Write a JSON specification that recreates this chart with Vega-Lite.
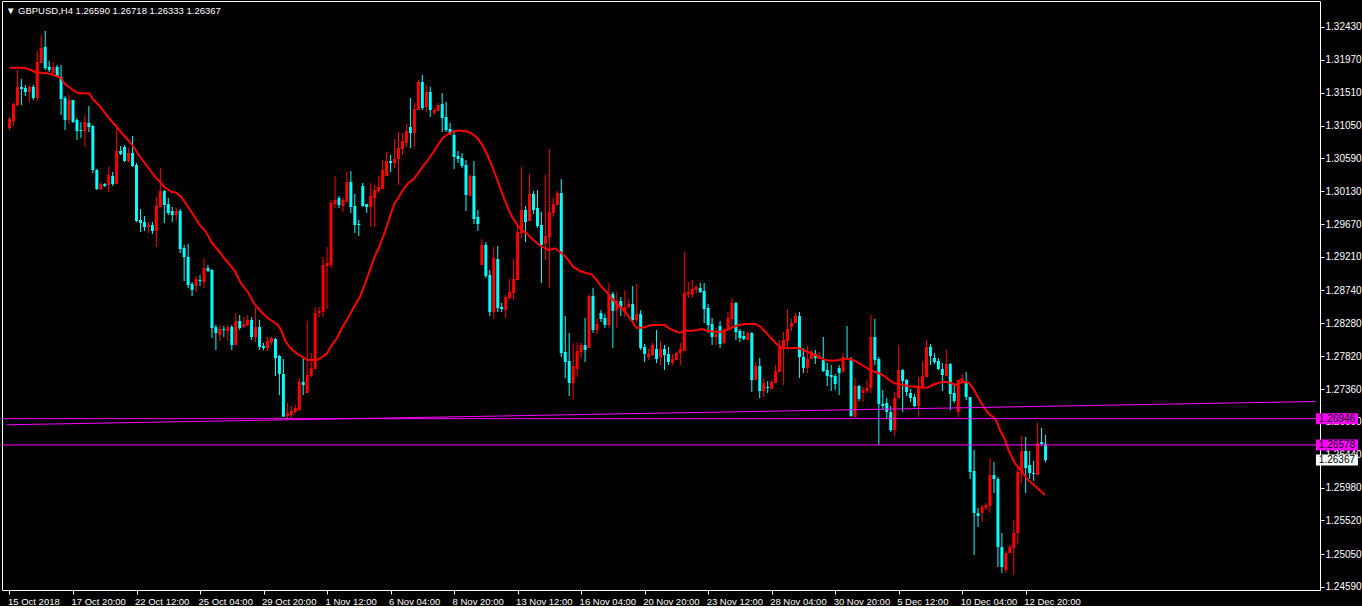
{
"$schema":"https://vega.github.io/schema/vega-lite/v6.json",
"background":"#000000",
"padding":{"left":1,"top":1,"right":0,"bottom":0},
"width":1318,"height":589,
"config":{"view":{"stroke":"#ffffff","strokeWidth":1}},
"resolve":{"axis":{"x":"independent","y":"independent"}},
"datasets":{
"candles":[
{"i":0,"o":1.31015,"h":1.31169,"l":1.30987,"c":1.31141},
{"i":1,"o":1.31113,"h":1.31365,"l":1.31043,"c":1.31351},
{"i":2,"o":1.31337,"h":1.31827,"l":1.31323,"c":1.31589},
{"i":3,"o":1.31589,"h":1.31701,"l":1.31337,"c":1.31561},
{"i":4,"o":1.31575,"h":1.31617,"l":1.31463,"c":1.31519},
{"i":5,"o":1.31519,"h":1.31617,"l":1.31379,"c":1.31589},
{"i":6,"o":1.31589,"h":1.31617,"l":1.31407,"c":1.31435},
{"i":7,"o":1.31435,"h":1.32093,"l":1.31393,"c":1.31939},
{"i":8,"o":1.31925,"h":1.32317,"l":1.31925,"c":1.32135},
{"i":9,"o":1.32149,"h":1.32373,"l":1.31827,"c":1.31855},
{"i":10,"o":1.31869,"h":1.31953,"l":1.31799,"c":1.31827},
{"i":11,"o":1.31785,"h":1.31939,"l":1.31771,"c":1.31869},
{"i":12,"o":1.31869,"h":1.31897,"l":1.31729,"c":1.31729},
{"i":13,"o":1.31729,"h":1.31897,"l":1.31197,"c":1.31421},
{"i":14,"o":1.31435,"h":1.31463,"l":1.30987,"c":1.31127},
{"i":15,"o":1.31127,"h":1.31491,"l":1.31071,"c":1.31407},
{"i":16,"o":1.31407,"h":1.31407,"l":1.31085,"c":1.31099},
{"i":17,"o":1.31127,"h":1.31155,"l":1.30847,"c":1.30973},
{"i":18,"o":1.30987,"h":1.31099,"l":1.30875,"c":1.30973},
{"i":19,"o":1.30973,"h":1.31197,"l":1.30749,"c":1.31099},
{"i":20,"o":1.31085,"h":1.31323,"l":1.30959,"c":1.31029},
{"i":21,"o":1.31043,"h":1.31057,"l":1.30385,"c":1.30427},
{"i":22,"o":1.30427,"h":1.30441,"l":1.30147,"c":1.30161},
{"i":23,"o":1.30161,"h":1.30259,"l":1.30147,"c":1.30231},
{"i":24,"o":1.30231,"h":1.30245,"l":1.30189,"c":1.30203},
{"i":25,"o":1.30217,"h":1.30469,"l":1.30119,"c":1.30357},
{"i":26,"o":1.30343,"h":1.30399,"l":1.30203,"c":1.30231},
{"i":27,"o":1.30231,"h":1.31029,"l":1.30231,"c":1.30693},
{"i":28,"o":1.30693,"h":1.30763,"l":1.30637,"c":1.30651},
{"i":29,"o":1.30749,"h":1.30777,"l":1.30539,"c":1.30553},
{"i":30,"o":1.30553,"h":1.30735,"l":1.30539,"c":1.30665},
{"i":31,"o":1.30665,"h":1.30903,"l":1.30469,"c":1.30483},
{"i":32,"o":1.30497,"h":1.30525,"l":1.29699,"c":1.29713},
{"i":33,"o":1.29727,"h":1.29881,"l":1.29559,"c":1.29685},
{"i":34,"o":1.29699,"h":1.29783,"l":1.29573,"c":1.29629},
{"i":35,"o":1.29629,"h":1.29699,"l":1.29545,"c":1.29657},
{"i":36,"o":1.29657,"h":1.29699,"l":1.29531,"c":1.29573},
{"i":37,"o":1.29573,"h":1.30049,"l":1.29349,"c":1.29923},
{"i":38,"o":1.29909,"h":1.30455,"l":1.29909,"c":1.30133},
{"i":39,"o":1.30133,"h":1.30147,"l":1.29685,"c":1.29937},
{"i":40,"o":1.29951,"h":1.30035,"l":1.29797,"c":1.29825},
{"i":41,"o":1.29853,"h":1.29909,"l":1.29699,"c":1.29797},
{"i":42,"o":1.29797,"h":1.29895,"l":1.29713,"c":1.29853},
{"i":43,"o":1.29853,"h":1.29881,"l":1.29265,"c":1.29321},
{"i":44,"o":1.29335,"h":1.29377,"l":1.28873,"c":1.29209},
{"i":45,"o":1.29209,"h":1.29391,"l":1.28775,"c":1.28817},
{"i":46,"o":1.28831,"h":1.28859,"l":1.28663,"c":1.28747},
{"i":47,"o":1.28803,"h":1.28943,"l":1.28719,"c":1.28901},
{"i":48,"o":1.28887,"h":1.28957,"l":1.28803,"c":1.28873},
{"i":49,"o":1.28859,"h":1.29195,"l":1.28775,"c":1.29055},
{"i":50,"o":1.29055,"h":1.29097,"l":1.28999,"c":1.29013},
{"i":51,"o":1.29027,"h":1.29041,"l":1.28075,"c":1.28215},
{"i":52,"o":1.28229,"h":1.28257,"l":1.27907,"c":1.28145},
{"i":53,"o":1.28117,"h":1.28257,"l":1.28033,"c":1.28201},
{"i":54,"o":1.28201,"h":1.28243,"l":1.28089,"c":1.28187},
{"i":55,"o":1.28173,"h":1.28257,"l":1.28033,"c":1.28229},
{"i":56,"o":1.28229,"h":1.28257,"l":1.27907,"c":1.27977},
{"i":57,"o":1.27977,"h":1.28425,"l":1.27977,"c":1.28313},
{"i":58,"o":1.28313,"h":1.28397,"l":1.28187,"c":1.28215},
{"i":59,"o":1.28229,"h":1.28369,"l":1.28215,"c":1.28271},
{"i":60,"o":1.28257,"h":1.28397,"l":1.28243,"c":1.28327},
{"i":61,"o":1.28327,"h":1.28369,"l":1.28047,"c":1.28089},
{"i":62,"o":1.28089,"h":1.28509,"l":1.28019,"c":1.28229},
{"i":63,"o":1.28229,"h":1.28327,"l":1.27907,"c":1.27949},
{"i":64,"o":1.27963,"h":1.28005,"l":1.27907,"c":1.27935},
{"i":65,"o":1.27935,"h":1.28089,"l":1.27893,"c":1.28033},
{"i":66,"o":1.28019,"h":1.28089,"l":1.27977,"c":1.28075},
{"i":67,"o":1.28061,"h":1.28075,"l":1.27543,"c":1.27795},
{"i":68,"o":1.27823,"h":1.27837,"l":1.27277,"c":1.27571},
{"i":69,"o":1.27571,"h":1.27781,"l":1.26969,"c":1.26975},
{"i":70,"o":1.26983,"h":1.27165,"l":1.26941,"c":1.27025},
{"i":71,"o":1.26997,"h":1.27123,"l":1.26955,"c":1.27053},
{"i":72,"o":1.27039,"h":1.27137,"l":1.27025,"c":1.27095},
{"i":73,"o":1.27067,"h":1.27515,"l":1.27053,"c":1.27459},
{"i":74,"o":1.27459,"h":1.27795,"l":1.27277,"c":1.27417},
{"i":75,"o":1.27305,"h":1.28313,"l":1.27305,"c":1.27557},
{"i":76,"o":1.27543,"h":1.27865,"l":1.27529,"c":1.27655},
{"i":77,"o":1.27641,"h":1.28509,"l":1.27641,"c":1.28425},
{"i":78,"o":1.28425,"h":1.28509,"l":1.28369,"c":1.28453},
{"i":79,"o":1.28439,"h":1.29209,"l":1.28369,"c":1.29097},
{"i":80,"o":1.29083,"h":1.29349,"l":1.28481,"c":1.29125},
{"i":81,"o":1.29097,"h":1.30007,"l":1.29055,"c":1.29965},
{"i":82,"o":1.29951,"h":1.30343,"l":1.29895,"c":1.30007},
{"i":83,"o":1.30035,"h":1.30063,"l":1.29895,"c":1.29937},
{"i":84,"o":1.29923,"h":1.30035,"l":1.29839,"c":1.30007},
{"i":85,"o":1.29979,"h":1.30399,"l":1.29979,"c":1.30259},
{"i":86,"o":1.30259,"h":1.30413,"l":1.29825,"c":1.29909},
{"i":87,"o":1.29923,"h":1.30091,"l":1.29545,"c":1.29657},
{"i":88,"o":1.29671,"h":1.29727,"l":1.29503,"c":1.29657},
{"i":89,"o":1.30203,"h":1.30245,"l":1.29909,"c":1.29923},
{"i":90,"o":1.29951,"h":1.29951,"l":1.29825,"c":1.29909},
{"i":91,"o":1.29909,"h":1.30245,"l":1.29629,"c":1.30063},
{"i":92,"o":1.30035,"h":1.30217,"l":1.29629,"c":1.30147},
{"i":93,"o":1.30133,"h":1.30343,"l":1.30105,"c":1.30189},
{"i":94,"o":1.30161,"h":1.30567,"l":1.30161,"c":1.30427},
{"i":95,"o":1.30343,"h":1.30679,"l":1.30343,"c":1.30553},
{"i":96,"o":1.30553,"h":1.30637,"l":1.30399,"c":1.30525},
{"i":97,"o":1.30525,"h":1.30861,"l":1.30455,"c":1.30581},
{"i":98,"o":1.30581,"h":1.30959,"l":1.30217,"c":1.30735},
{"i":99,"o":1.30721,"h":1.30945,"l":1.30637,"c":1.30833},
{"i":100,"o":1.30805,"h":1.31071,"l":1.30749,"c":1.30973},
{"i":101,"o":1.31029,"h":1.31435,"l":1.30735,"c":1.30945},
{"i":102,"o":1.30945,"h":1.31365,"l":1.30749,"c":1.31281},
{"i":103,"o":1.31267,"h":1.31687,"l":1.31267,"c":1.31659},
{"i":104,"o":1.31659,"h":1.31757,"l":1.31267,"c":1.31295},
{"i":105,"o":1.31309,"h":1.31617,"l":1.31239,"c":1.31519},
{"i":106,"o":1.31519,"h":1.31589,"l":1.31169,"c":1.31267},
{"i":107,"o":1.31225,"h":1.31295,"l":1.31197,"c":1.31267},
{"i":108,"o":1.31253,"h":1.31365,"l":1.31253,"c":1.31337},
{"i":109,"o":1.31351,"h":1.31505,"l":1.30959,"c":1.31155},
{"i":110,"o":1.31169,"h":1.31379,"l":1.30959,"c":1.30987},
{"i":111,"o":1.31001,"h":1.31085,"l":1.30917,"c":1.30945},
{"i":112,"o":1.30917,"h":1.30987,"l":1.30441,"c":1.30609},
{"i":113,"o":1.30623,"h":1.30693,"l":1.30525,"c":1.30581},
{"i":114,"o":1.30595,"h":1.30665,"l":1.30455,"c":1.30483},
{"i":115,"o":1.30497,"h":1.30567,"l":1.29853,"c":1.30077},
{"i":116,"o":1.30063,"h":1.30371,"l":1.30063,"c":1.30343},
{"i":117,"o":1.30343,"h":1.30553,"l":1.29671,"c":1.29741},
{"i":118,"o":1.29769,"h":1.29867,"l":1.29573,"c":1.29671},
{"i":119,"o":1.29097,"h":1.29461,"l":1.29097,"c":1.29377},
{"i":120,"o":1.29377,"h":1.29419,"l":1.28915,"c":1.28943},
{"i":121,"o":1.28957,"h":1.29027,"l":1.28383,"c":1.28439},
{"i":122,"o":1.28439,"h":1.29349,"l":1.28341,"c":1.29195},
{"i":123,"o":1.29181,"h":1.29363,"l":1.28439,"c":1.28495},
{"i":124,"o":1.28509,"h":1.28565,"l":1.28439,"c":1.28481},
{"i":125,"o":1.28467,"h":1.28677,"l":1.28355,"c":1.28649},
{"i":126,"o":1.28635,"h":1.28901,"l":1.28607,"c":1.28719},
{"i":127,"o":1.28705,"h":1.29181,"l":1.28607,"c":1.28901},
{"i":128,"o":1.28887,"h":1.29671,"l":1.28887,"c":1.29559},
{"i":129,"o":1.29545,"h":1.30469,"l":1.29475,"c":1.29867},
{"i":130,"o":1.29867,"h":1.29923,"l":1.29419,"c":1.29699},
{"i":131,"o":1.29713,"h":1.30371,"l":1.29713,"c":1.30091},
{"i":132,"o":1.30091,"h":1.30133,"l":1.29811,"c":1.29867},
{"i":133,"o":1.29895,"h":1.30147,"l":1.29615,"c":1.29643},
{"i":134,"o":1.29657,"h":1.29839,"l":1.28845,"c":1.29377},
{"i":135,"o":1.29391,"h":1.30357,"l":1.29167,"c":1.29503},
{"i":136,"o":1.29489,"h":1.30721,"l":1.28775,"c":1.29839},
{"i":137,"o":1.29825,"h":1.30035,"l":1.29769,"c":1.29951},
{"i":138,"o":1.29937,"h":1.30133,"l":1.29937,"c":1.30105},
{"i":139,"o":1.30105,"h":1.30301,"l":1.27809,"c":1.27865},
{"i":140,"o":1.27879,"h":1.28383,"l":1.27515,"c":1.27739},
{"i":141,"o":1.27753,"h":1.28145,"l":1.27263,"c":1.27445},
{"i":142,"o":1.27445,"h":1.28005,"l":1.27207,"c":1.27683},
{"i":143,"o":1.27641,"h":1.28005,"l":1.27529,"c":1.27893},
{"i":144,"o":1.27879,"h":1.28005,"l":1.27795,"c":1.27977},
{"i":145,"o":1.27977,"h":1.28355,"l":1.27739,"c":1.27907},
{"i":146,"o":1.27935,"h":1.28691,"l":1.27935,"c":1.28663},
{"i":147,"o":1.28663,"h":1.28775,"l":1.28145,"c":1.28187},
{"i":148,"o":1.28187,"h":1.28355,"l":1.28131,"c":1.28271},
{"i":149,"o":1.28425,"h":1.28467,"l":1.28299,"c":1.28341},
{"i":150,"o":1.28355,"h":1.28411,"l":1.28215,"c":1.28257},
{"i":151,"o":1.28257,"h":1.28845,"l":1.28215,"c":1.28691},
{"i":152,"o":1.28691,"h":1.28719,"l":1.27935,"c":1.28453},
{"i":153,"o":1.28467,"h":1.28719,"l":1.28215,"c":1.28593},
{"i":154,"o":1.28593,"h":1.28649,"l":1.28383,"c":1.28495},
{"i":155,"o":1.28439,"h":1.28747,"l":1.28369,"c":1.28509},
{"i":156,"o":1.28509,"h":1.28621,"l":1.28495,"c":1.28551},
{"i":157,"o":1.28551,"h":1.28803,"l":1.28285,"c":1.28327},
{"i":158,"o":1.28327,"h":1.28831,"l":1.28299,"c":1.28411},
{"i":159,"o":1.28411,"h":1.28467,"l":1.27907,"c":1.27935},
{"i":160,"o":1.27949,"h":1.27991,"l":1.27739,"c":1.27851},
{"i":161,"o":1.27809,"h":1.27921,"l":1.27767,"c":1.27851},
{"i":162,"o":1.27837,"h":1.28005,"l":1.27823,"c":1.27977},
{"i":163,"o":1.27921,"h":1.28187,"l":1.27725,"c":1.27781},
{"i":164,"o":1.27809,"h":1.28033,"l":1.27697,"c":1.27921},
{"i":165,"o":1.27921,"h":1.27977,"l":1.27627,"c":1.27837},
{"i":166,"o":1.27851,"h":1.27949,"l":1.27697,"c":1.27739},
{"i":167,"o":1.27725,"h":1.27851,"l":1.27697,"c":1.27781},
{"i":168,"o":1.27767,"h":1.27879,"l":1.27767,"c":1.27865},
{"i":169,"o":1.27865,"h":1.28005,"l":1.27697,"c":1.27921},
{"i":170,"o":1.27893,"h":1.29279,"l":1.27893,"c":1.28705},
{"i":171,"o":1.28691,"h":1.28859,"l":1.28635,"c":1.28719},
{"i":172,"o":1.28677,"h":1.28887,"l":1.28635,"c":1.28761},
{"i":173,"o":1.28747,"h":1.28817,"l":1.28705,"c":1.28789},
{"i":174,"o":1.28775,"h":1.28845,"l":1.28705,"c":1.28719},
{"i":175,"o":1.28733,"h":1.28845,"l":1.28285,"c":1.28481},
{"i":176,"o":1.28495,"h":1.28551,"l":1.28145,"c":1.28257},
{"i":177,"o":1.28271,"h":1.28355,"l":1.27977,"c":1.28089},
{"i":178,"o":1.28089,"h":1.28215,"l":1.27977,"c":1.28131},
{"i":179,"o":1.28243,"h":1.28313,"l":1.27935,"c":1.27991},
{"i":180,"o":1.28005,"h":1.28215,"l":1.27991,"c":1.28187},
{"i":181,"o":1.28187,"h":1.28439,"l":1.28187,"c":1.28355},
{"i":182,"o":1.28341,"h":1.28635,"l":1.28215,"c":1.28565},
{"i":183,"o":1.28565,"h":1.28579,"l":1.28047,"c":1.28159},
{"i":184,"o":1.28173,"h":1.28201,"l":1.28019,"c":1.28075},
{"i":185,"o":1.28103,"h":1.28173,"l":1.28047,"c":1.28061},
{"i":186,"o":1.28047,"h":1.28159,"l":1.28047,"c":1.28145},
{"i":187,"o":1.28145,"h":1.28159,"l":1.27319,"c":1.27487},
{"i":188,"o":1.27487,"h":1.27739,"l":1.27487,"c":1.27683},
{"i":189,"o":1.27683,"h":1.27795,"l":1.27235,"c":1.27333},
{"i":190,"o":1.27333,"h":1.27515,"l":1.27249,"c":1.27445},
{"i":191,"o":1.27389,"h":1.27473,"l":1.27305,"c":1.27375},
{"i":192,"o":1.27361,"h":1.27487,"l":1.27361,"c":1.27459},
{"i":193,"o":1.27445,"h":1.27697,"l":1.27445,"c":1.27613},
{"i":194,"o":1.27599,"h":1.28047,"l":1.27599,"c":1.27949},
{"i":195,"o":1.27949,"h":1.28159,"l":1.27417,"c":1.28047},
{"i":196,"o":1.28033,"h":1.28481,"l":1.27949,"c":1.28201},
{"i":197,"o":1.28229,"h":1.28341,"l":1.28173,"c":1.28285},
{"i":198,"o":1.28285,"h":1.28425,"l":1.28285,"c":1.28383},
{"i":199,"o":1.28383,"h":1.28439,"l":1.27515,"c":1.27809},
{"i":200,"o":1.27809,"h":1.27935,"l":1.27585,"c":1.27655},
{"i":201,"o":1.27655,"h":1.27963,"l":1.27585,"c":1.27781},
{"i":202,"o":1.27781,"h":1.27907,"l":1.27781,"c":1.27879},
{"i":203,"o":1.27851,"h":1.27907,"l":1.27711,"c":1.27795},
{"i":204,"o":1.27781,"h":1.27879,"l":1.27781,"c":1.27823},
{"i":205,"o":1.27767,"h":1.28089,"l":1.27599,"c":1.27613},
{"i":206,"o":1.27627,"h":1.27725,"l":1.27403,"c":1.27543},
{"i":207,"o":1.27557,"h":1.27697,"l":1.27333,"c":1.27529},
{"i":208,"o":1.27543,"h":1.27571,"l":1.27347,"c":1.27431},
{"i":209,"o":1.27655,"h":1.27697,"l":1.27277,"c":1.27585},
{"i":210,"o":1.27599,"h":1.27865,"l":1.27599,"c":1.27809},
{"i":211,"o":1.27795,"h":1.28243,"l":1.27767,"c":1.27781},
{"i":212,"o":1.27781,"h":1.27809,"l":1.26969,"c":1.26983},
{"i":213,"o":1.26969,"h":1.27515,"l":1.26969,"c":1.27403},
{"i":214,"o":1.27403,"h":1.27417,"l":1.27193,"c":1.27221},
{"i":215,"o":1.27305,"h":1.27389,"l":1.27179,"c":1.27347},
{"i":216,"o":1.27333,"h":1.27487,"l":1.27305,"c":1.27375},
{"i":217,"o":1.27375,"h":1.28397,"l":1.27305,"c":1.28089},
{"i":218,"o":1.28089,"h":1.28341,"l":1.27697,"c":1.27767},
{"i":219,"o":1.27781,"h":1.27809,"l":1.26577,"c":1.27151},
{"i":220,"o":1.27151,"h":1.27347,"l":1.27067,"c":1.27123},
{"i":221,"o":1.27165,"h":1.27235,"l":1.26941,"c":1.27039},
{"i":222,"o":1.27039,"h":1.27123,"l":1.26759,"c":1.26787},
{"i":223,"o":1.26787,"h":1.27319,"l":1.26703,"c":1.27235},
{"i":224,"o":1.27235,"h":1.27977,"l":1.27235,"c":1.27627},
{"i":225,"o":1.27627,"h":1.27641,"l":1.27039,"c":1.27473},
{"i":226,"o":1.27487,"h":1.27501,"l":1.27263,"c":1.27319},
{"i":227,"o":1.27305,"h":1.27361,"l":1.27179,"c":1.27235},
{"i":228,"o":1.27249,"h":1.27291,"l":1.27109,"c":1.27123},
{"i":229,"o":1.27123,"h":1.27529,"l":1.26969,"c":1.27403},
{"i":230,"o":1.27389,"h":1.27753,"l":1.27389,"c":1.27543},
{"i":231,"o":1.27529,"h":1.28047,"l":1.27529,"c":1.27949},
{"i":232,"o":1.27949,"h":1.27991,"l":1.27697,"c":1.27823},
{"i":233,"o":1.27795,"h":1.27865,"l":1.27711,"c":1.27739},
{"i":234,"o":1.27753,"h":1.27795,"l":1.27627,"c":1.27641},
{"i":235,"o":1.27641,"h":1.27725,"l":1.27333,"c":1.27557},
{"i":236,"o":1.27543,"h":1.27907,"l":1.27543,"c":1.27711},
{"i":237,"o":1.27711,"h":1.27725,"l":1.27067,"c":1.27291},
{"i":238,"o":1.27305,"h":1.27417,"l":1.27165,"c":1.27193},
{"i":239,"o":1.27039,"h":1.27487,"l":1.26969,"c":1.27487},
{"i":240,"o":1.27473,"h":1.27571,"l":1.27473,"c":1.27515},
{"i":241,"o":1.27445,"h":1.27599,"l":1.27207,"c":1.27249},
{"i":242,"o":1.27249,"h":1.27249,"l":1.26101,"c":1.26199},
{"i":243,"o":1.26213,"h":1.26507,"l":1.25037,"c":1.25625},
{"i":244,"o":1.25625,"h":1.25695,"l":1.25429,"c":1.25583},
{"i":245,"o":1.25625,"h":1.25737,"l":1.25499,"c":1.25709},
{"i":246,"o":1.25695,"h":1.25765,"l":1.25667,"c":1.25737},
{"i":247,"o":1.25723,"h":1.26395,"l":1.25625,"c":1.26157},
{"i":248,"o":1.26157,"h":1.26339,"l":1.25905,"c":1.26101},
{"i":249,"o":1.26101,"h":1.26129,"l":1.24869,"c":1.25149},
{"i":250,"o":1.25149,"h":1.25345,"l":1.24785,"c":1.24869},
{"i":251,"o":1.24827,"h":1.25093,"l":1.24785,"c":1.25065},
{"i":252,"o":1.25065,"h":1.25177,"l":1.25065,"c":1.25149},
{"i":253,"o":1.25135,"h":1.25527,"l":1.24757,"c":1.25345},
{"i":254,"o":1.25345,"h":1.26255,"l":1.25191,"c":1.26199},
{"i":255,"o":1.26185,"h":1.26703,"l":1.26045,"c":1.26493},
{"i":256,"o":1.26493,"h":1.26689,"l":1.25905,"c":1.26255},
{"i":257,"o":1.26297,"h":1.26493,"l":1.26101,"c":1.26185},
{"i":258,"o":1.26185,"h":1.26353,"l":1.26073,"c":1.26171},
{"i":259,"o":1.26157,"h":1.26885,"l":1.26157,"c":1.26605},
{"i":260,"o":1.26619,"h":1.26815,"l":1.26563,"c":1.26591},
{"i":261,"o":1.26590,"h":1.26718,"l":1.26333,"c":1.26367}
],
"ma":[
{"i":0,"v":1.31859},{"i":3.7,"v":1.31859},{"i":5.4,"v":1.31827},{"i":6.6,"v":1.31795},{"i":9.1,"v":1.31781},{"i":10.4,"v":1.31771},{"i":11.6,"v":1.31747},{"i":12.9,"v":1.31719},{"i":14,"v":1.31627},{"i":15.4,"v":1.31571},{"i":16.6,"v":1.31523},{"i":17.5,"v":1.31501},{"i":20,"v":1.31501},{"i":21.2,"v":1.31407},{"i":22.9,"v":1.31313},{"i":24.1,"v":1.31221},{"i":25.8,"v":1.31103},{"i":27,"v":1.31033},{"i":28.3,"v":1.30941},{"i":29.9,"v":1.30847},{"i":31.2,"v":1.30753},{"i":32.9,"v":1.30613},{"i":34.1,"v":1.30521},{"i":36.6,"v":1.30333},{"i":37.9,"v":1.30263},{"i":39.1,"v":1.30185},{"i":40.8,"v":1.30123},{"i":42,"v":1.30109},{"i":43.3,"v":1.30045},{"i":45,"v":1.29913},{"i":46.6,"v":1.29773},{"i":47.9,"v":1.29657},{"i":49.5,"v":1.29563},{"i":50.8,"v":1.29423},{"i":52.5,"v":1.29307},{"i":54.5,"v":1.29167},{"i":56.6,"v":1.29027},{"i":58.3,"v":1.28841},{"i":60,"v":1.28723},{"i":61.6,"v":1.28561},{"i":63.4,"v":1.28443},{"i":65.1,"v":1.28351},{"i":65.8,"v":1.28327},{"i":67.6,"v":1.28257},{"i":68.4,"v":1.28187},{"i":69.6,"v":1.28023},{"i":70.8,"v":1.27931},{"i":72.5,"v":1.27851},{"i":74.1,"v":1.27799},{"i":75,"v":1.27767},{"i":77.5,"v":1.27767},{"i":78.7,"v":1.27805},{"i":80,"v":1.27861},{"i":81.2,"v":1.27977},{"i":82.5,"v":1.28071},{"i":83.7,"v":1.28211},{"i":85,"v":1.28327},{"i":86.6,"v":1.28491},{"i":88.3,"v":1.28653},{"i":89.6,"v":1.28841},{"i":90.8,"v":1.29027},{"i":92,"v":1.29213},{"i":93.3,"v":1.29377},{"i":94.6,"v":1.29563},{"i":95.8,"v":1.29773},{"i":97,"v":1.29961},{"i":97.9,"v":1.30031},{"i":99.1,"v":1.30147},{"i":100.4,"v":1.30241},{"i":101.6,"v":1.30287},{"i":102.9,"v":1.30381},{"i":104.1,"v":1.30473},{"i":105.4,"v":1.30567},{"i":106.6,"v":1.30661},{"i":107.9,"v":1.30777},{"i":109.1,"v":1.30871},{"i":110.4,"v":1.30927},{"i":111.6,"v":1.30959},{"i":112.9,"v":1.30977},{"i":114.1,"v":1.30977},{"i":115.4,"v":1.30963},{"i":116.6,"v":1.30931},{"i":117.9,"v":1.30871},{"i":119.1,"v":1.30777},{"i":120.4,"v":1.30637},{"i":121.6,"v":1.30473},{"i":122.9,"v":1.30287},{"i":124.1,"v":1.30101},{"i":125.4,"v":1.29913},{"i":126.6,"v":1.29773},{"i":127.9,"v":1.29657},{"i":129.1,"v":1.2958},{"i":130.4,"v":1.29541},{"i":130.8,"v":1.29507},{"i":132.5,"v":1.29423},{"i":134.1,"v":1.29353},{"i":135.8,"v":1.29307},{"i":137.5,"v":1.29331},{"i":139.1,"v":1.29261},{"i":140.8,"v":1.29167},{"i":142,"v":1.29073},{"i":143.7,"v":1.29013},{"i":145,"v":1.28989},{"i":146.6,"v":1.28967},{"i":147.9,"v":1.28887},{"i":149.1,"v":1.28793},{"i":150.4,"v":1.28723},{"i":151.6,"v":1.28631},{"i":152.9,"v":1.28561},{"i":154.1,"v":1.28499},{"i":155.4,"v":1.28421},{"i":156.6,"v":1.28327},{"i":157.9,"v":1.28219},{"i":159.1,"v":1.28219},{"i":160.4,"v":1.28233},{"i":161.6,"v":1.28257},{"i":162.9,"v":1.28257},{"i":165,"v":1.28257},{"i":166.2,"v":1.28211},{"i":167.5,"v":1.28177},{"i":168.7,"v":1.28149},{"i":169.5,"v":1.28163},{"i":170.4,"v":1.28177},{"i":172,"v":1.28177},{"i":173.3,"v":1.28187},{"i":174.5,"v":1.28201},{"i":175.8,"v":1.28177},{"i":177.5,"v":1.28163},{"i":179.5,"v":1.28163},{"i":181.2,"v":1.28197},{"i":182.5,"v":1.28233},{"i":183.7,"v":1.28257},{"i":185.4,"v":1.28271},{"i":187.9,"v":1.28271},{"i":189.1,"v":1.28233},{"i":190.4,"v":1.28163},{"i":191.6,"v":1.28085},{"i":192.9,"v":1.28009},{"i":194.1,"v":1.27953},{"i":194.9,"v":1.27931},{"i":196.6,"v":1.27931},{"i":198.3,"v":1.27939},{"i":199.1,"v":1.27925},{"i":200.4,"v":1.27897},{"i":201.6,"v":1.27869},{"i":202.9,"v":1.27837},{"i":204.1,"v":1.27805},{"i":205.4,"v":1.27767},{"i":207.5,"v":1.27757},{"i":209.1,"v":1.27767},{"i":210.4,"v":1.27781},{"i":211.6,"v":1.27781},{"i":212.9,"v":1.27757},{"i":214.1,"v":1.27721},{"i":215.4,"v":1.27673},{"i":216.6,"v":1.27637},{"i":217.9,"v":1.27603},{"i":219.1,"v":1.27581},{"i":220.4,"v":1.27543},{"i":221.6,"v":1.27487},{"i":222.9,"v":1.27441},{"i":224.1,"v":1.27427},{"i":225.4,"v":1.27417},{"i":226.6,"v":1.274},{"i":228.3,"v":1.27393},{"i":230,"v":1.27379},{"i":231.2,"v":1.27379},{"i":232.5,"v":1.27417},{"i":234.1,"v":1.27449},{"i":235.8,"v":1.27463},{"i":237,"v":1.27449},{"i":238.3,"v":1.27417},{"i":239.1,"v":1.27441},{"i":240.4,"v":1.27463},{"i":241.6,"v":1.27449},{"i":242.9,"v":1.27357},{"i":244.1,"v":1.27231},{"i":245.4,"v":1.27113},{"i":246.6,"v":1.27021},{"i":247.9,"v":1.26965},{"i":248.7,"v":1.26903},{"i":249.5,"v":1.26787},{"i":250.8,"v":1.26647},{"i":252,"v":1.26461},{"i":253.3,"v":1.26321},{"i":255,"v":1.26203},{"i":256.6,"v":1.26087},{"i":258.3,"v":1.26007},{"i":259.5,"v":1.25947},{"i":260.8,"v":1.25877}
],
"trend":[{"i":-0.625,"p":1.2686},{"i":328.875,"p":1.27186}],
"levels":[{"p":1.26946,"t":"1.26946","k":"line"},{"p":1.26578,"t":"1.26578","k":"line"},{"p":1.26367,"t":"1.26367","k":"bid"}]
},
"layer":[
{"data":{"name":"candles"},
 "mark":{"type":"rule","strokeWidth":1},
 "encoding":{
  "x":{"field":"i","type":"quantitative","title":null,"scale":{"domain":[-0.625,328.875],"nice":false,"zero":false},
   "axis":{"values":[0,16,32,48,64,80,96,112,128,144,160,176,192,208,224,240,256],
    "labelExpr":"['15 Oct 2018','17 Oct 20:00','22 Oct 12:00','25 Oct 04:00','29 Oct 20:00','1 Nov 12:00','6 Nov 04:00','8 Nov 20:00','13 Nov 12:00','16 Nov 04:00','20 Nov 20:00','23 Nov 12:00','28 Nov 04:00','30 Nov 20:00','5 Dec 12:00','10 Dec 04:00','12 Dec 20:00'][round(datum.value/16)]",
    "domain":false,"grid":false,"ticks":true,"tickColor":"#ffffff","tickSize":4,"labelColor":"#ffffff","labelFont":"Liberation Sans","labelFontSize":9.5,"labelAlign":"left","labelBaseline":"top","labelPadding":2,"labelOffset":-2,"labelOverlap":false,"labelFlush":false,"labelBound":false,"title":null}},
  "y":{"field":"l","type":"quantitative","title":null,"scale":{"domain":[1.24547,1.32793],"nice":false,"zero":false},
   "axis":{"orient":"right","values":[1.2459,1.2505,1.2552,1.2598,1.2644,1.269,1.2736,1.2782,1.2828,1.2874,1.2921,1.2967,1.3013,1.3059,1.3105,1.3151,1.3197,1.3243],
    "format":".5f","domain":false,"grid":false,"ticks":true,"tickColor":"#ffffff","tickSize":4,"labelColor":"#ffffff","labelFont":"Liberation Sans","labelFontSize":10,"labelPadding":1,"labelOverlap":false,"labelFlush":false,"labelBound":false,"title":null}},
  "y2":{"field":"h"},
  "color":{"condition":{"test":"datum.c < datum.o","value":"#00ffff"},"value":"#ff0000"}
 }},
{"data":{"name":"candles"},
 "mark":{"type":"bar","size":3,"orient":"vertical"},
 "encoding":{
  "x":{"field":"i","type":"quantitative","axis":null,"scale":{"domain":[-0.625,328.875],"nice":false,"zero":false}},
  "y":{"field":"o","type":"quantitative","axis":null,"scale":{"domain":[1.24547,1.32793],"nice":false,"zero":false}},
  "y2":{"field":"c"},
  "color":{"condition":{"test":"datum.c < datum.o","value":"#00ffff"},"value":"#ff0000"}
 }},
{"data":{"name":"ma"},
 "mark":{"type":"line","color":"#ff0000","strokeWidth":2},
 "encoding":{
  "x":{"field":"i","type":"quantitative","axis":null,"scale":{"domain":[-0.625,328.875],"nice":false,"zero":false}},
  "y":{"field":"v","type":"quantitative","axis":null,"scale":{"domain":[1.24547,1.32793],"nice":false,"zero":false}}
 }},
{"data":{"name":"trend"},
 "mark":{"type":"line","color":"#ff00ff","strokeWidth":1},
 "encoding":{
  "x":{"field":"i","type":"quantitative","axis":null,"scale":{"domain":[-0.625,328.875],"nice":false,"zero":false}},
  "y":{"field":"p","type":"quantitative","axis":null,"scale":{"domain":[1.24547,1.32793],"nice":false,"zero":false}}
 }},
{"data":{"name":"levels"},
 "transform":[{"filter":"datum.k == 'line'"}],
 "mark":{"type":"rule","color":"#ff00ff","strokeWidth":1},
 "encoding":{
  "y":{"field":"p","type":"quantitative","axis":null,"scale":{"domain":[1.24547,1.32793],"nice":false,"zero":false}}
 }},
{"data":{"name":"levels"},
 "mark":{"type":"tick","orient":"horizontal","size":42,"thickness":11,"opacity":1},
 "encoding":{
  "x":{"datum":334.4,"type":"quantitative","axis":null,"scale":{"domain":[-0.625,328.875],"nice":false,"zero":false}},
  "y":{"field":"p","type":"quantitative","axis":null,"scale":{"domain":[1.24547,1.32793],"nice":false,"zero":false}},
  "color":{"condition":{"test":"datum.k == 'line'","value":"#ff00ff"},"value":"#ffffff"}
 }},
{"data":{"name":"levels"},
 "mark":{"type":"text","align":"center","baseline":"middle","font":"Liberation Sans","fontSize":10,"color":"#000000"},
 "encoding":{
  "x":{"datum":334.4,"type":"quantitative","axis":null,"scale":{"domain":[-0.625,328.875],"nice":false,"zero":false}},
  "y":{"field":"p","type":"quantitative","axis":null,"scale":{"domain":[1.24547,1.32793],"nice":false,"zero":false}},
  "text":{"field":"t"}
 }},
{"data":{"values":[{}]},
 "mark":{"type":"text","align":"left","baseline":"alphabetic","font":"Liberation Sans","fontSize":9.5,"color":"#ffffff","text":"▼ GBPUSD,H4  1.26590 1.26718 1.26333 1.26367"},
 "encoding":{
  "x":{"datum":-0.875,"type":"quantitative","axis":null,"scale":{"domain":[-0.625,328.875],"nice":false,"zero":false}},
  "y":{"datum":1.32618,"type":"quantitative","axis":null,"scale":{"domain":[1.24547,1.32793],"nice":false,"zero":false}}
 }}
]
}
